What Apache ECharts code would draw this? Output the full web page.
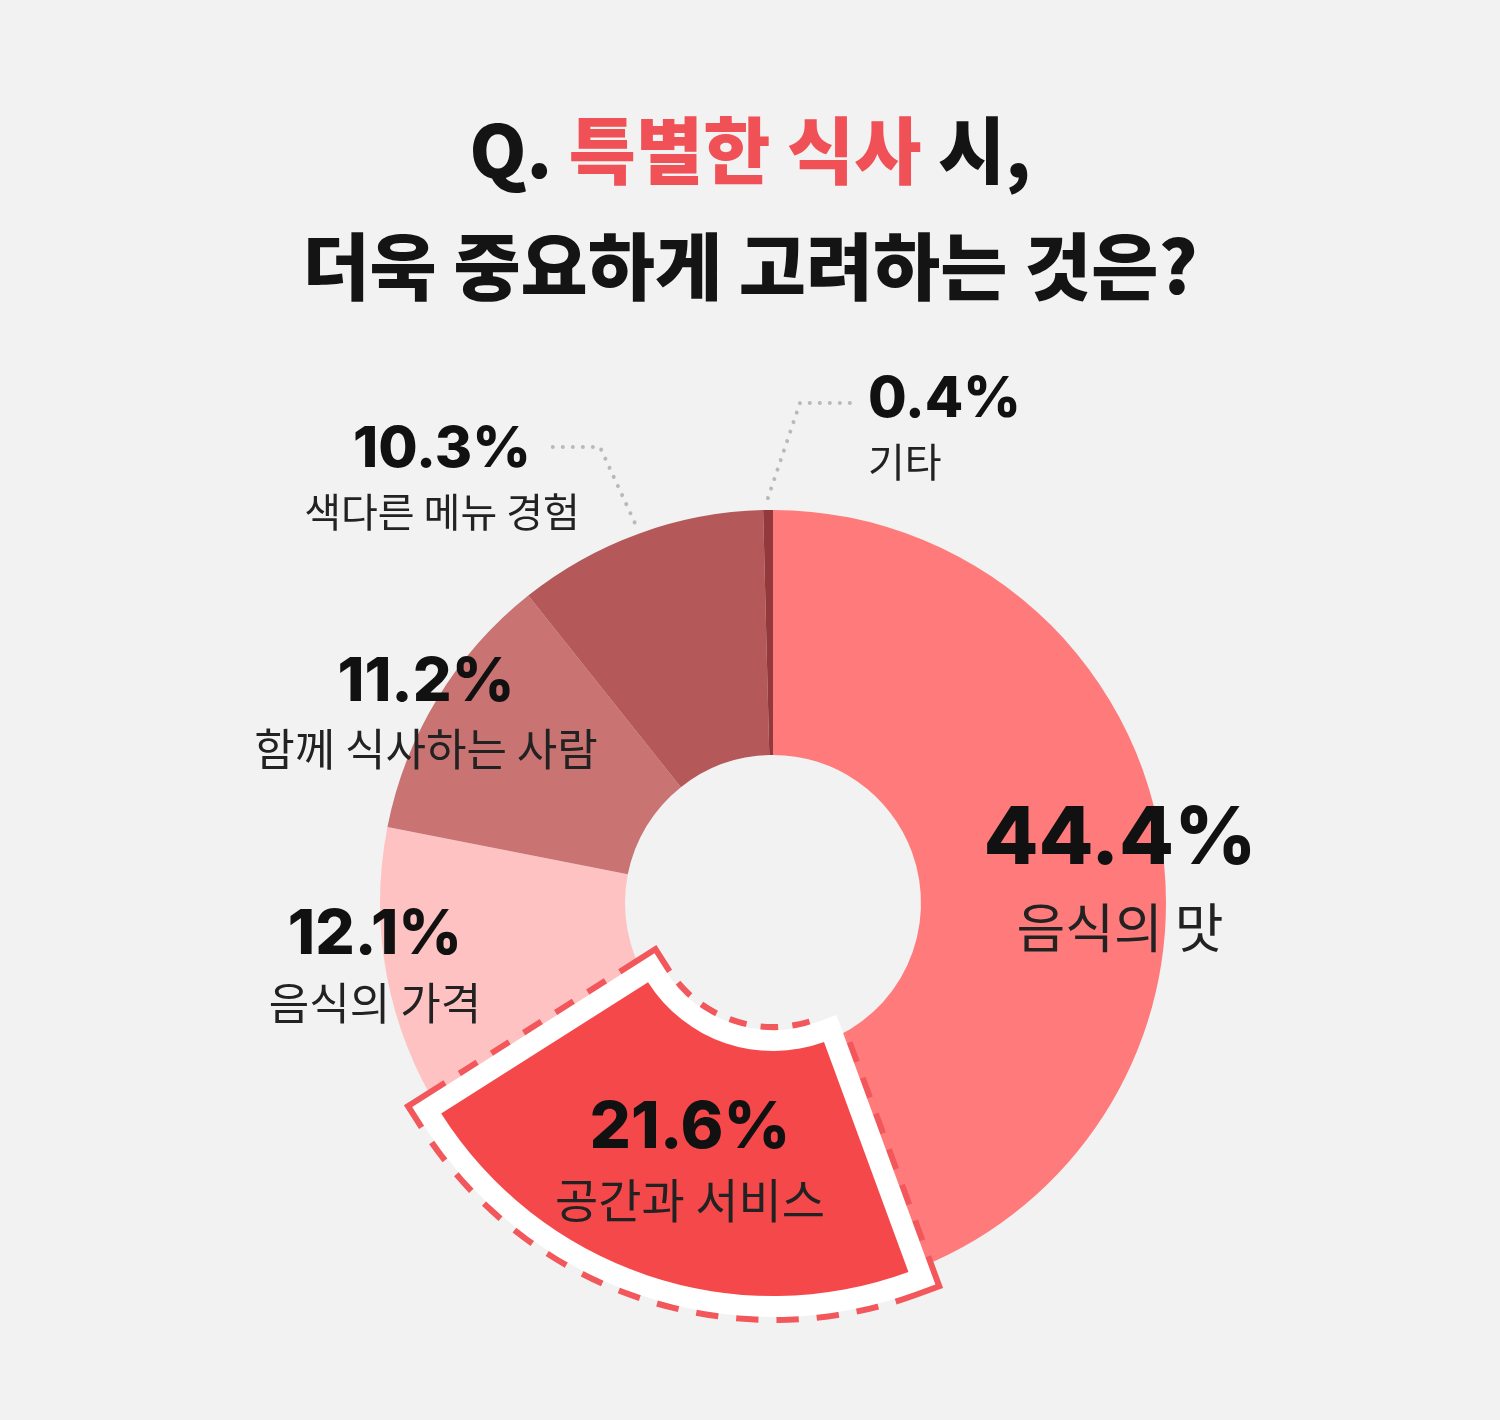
<!DOCTYPE html>
<html><head><meta charset="utf-8">
<script src="https://cdn.jsdelivr.net/npm/echarts@6/dist/echarts.min.js"></script>
<style>html,body{margin:0;padding:0;background:#f2f2f2}#c{width:1500px;height:1420px}</style>
</head><body><div id="c"></div>
<script>
// ---- data ----
const categories = ['음식의 맛', '공간과 서비스', '음식의 가격', '함께 식사하는 사람', '색다른 메뉴 경험', '기타'];
const values = [44.4, 21.6, 12.1, 11.2, 10.3, 0.4];
const colors = ['#FF7B7B', '#F5484B', '#FFC2C2', '#C97373', '#B4585A', '#93393B'];
const highlightIndex = 1;
const titleLine1 = ['Q. ', '특별한 식사', ' 시,'];
const titleLine2 = '더욱 중요하게 고려하는 것은?';

// ---- layout (positions / sizes only) ----
const CENTER = [773, 903];
const RADIUS = [148, 393];
const labelLayoutCfg = [
  {x: 1120, y: 884, align: 'center', num: 80, name: 53, lh: 88},
  {x: 690, y: 1164, align: 'center', num: 65, name: 47, lh: 72},
  {x: 375, y: 969, align: 'center', num: 62, name: 44, lh: 68},
  {x: 426, y: 716, align: 'center', num: 61, name: 44, lh: 67},
  {x: 442, y: 481, align: 'center', num: 57, name: 40, lh: 62, line: [[600, 447], [552, 447]]},
  {x: 868, y: 431, align: 'left', num: 56, name: 40, lh: 62, line: [[800, 403], [850, 403]]}
];
const NUM_FONT = 'Inter';
const KR_FONT = '"Noto Sans CJK KR"';

function makeData(styleFn, extraFn) {
  return categories.map((n, i) => Object.assign({name: n, value: values[i], itemStyle: styleFn(i)}, extraFn ? extraFn(i) : {}));
}
const common = {type: 'pie', center: CENTER, radius: RADIUS, startAngle: 90, clockwise: true,
  avoidLabelOverlap: false, animation: false, silent: true, emphasis: {disabled: true}};

const chart = echarts.init(document.getElementById('c'), null, {renderer: 'canvas'});
chart.setOption({
  backgroundColor: '#f2f2f2',
  title: {
    text: '{b|' + titleLine1[0] + '}{r|' + titleLine1[1] + '}{b|' + titleLine1[2] + '}\n{b|' + titleLine2 + '}',
    left: 'center', top: 87,
    textStyle: {
      rich: {
        b: {fontFamily: KR_FONT, fontWeight: 900, fontSize: 73, color: '#141414', lineHeight: 116},
        r: {fontFamily: KR_FONT, fontWeight: 900, fontSize: 73, color: '#F05157', lineHeight: 116}
      }
    }
  },
  series: [
    Object.assign({}, common, {z: 1, label: {show: false}, labelLine: {show: false},
      data: makeData(i => ({color: colors[i], borderWidth: 0}))}),
    Object.assign({}, common, {z: 2, label: {show: false}, labelLine: {show: false},
      data: makeData(i => i === highlightIndex
        ? {color: 'transparent', borderColor: '#F2575B', borderWidth: 54, borderType: [21, 17], borderJoin: 'miter', borderMiterLimit: 20}
        : {color: 'transparent', borderWidth: 0})}),
    Object.assign({}, common, {z: 3, label: {show: false}, labelLine: {show: false},
      data: makeData(i => i === highlightIndex
        ? {color: 'transparent', borderColor: '#ffffff', borderWidth: 42, borderJoin: 'miter', borderMiterLimit: 20}
        : {color: 'transparent', borderWidth: 0})}),
    Object.assign({}, common, {z: 4,
      label: {show: true, position: 'outside',
        formatter: p => '{v|' + values[p.dataIndex].toFixed(1) + '%}\n{n|' + categories[p.dataIndex] + '}'},
      labelLine: {show: false},
      labelLayout: function (p) {
        const L = labelLayoutCfg[p.dataIndex];
        const o = {x: L.x, y: L.y, align: L.align, verticalAlign: 'middle'};
        if (L.line && p.labelLinePoints) {
          const s = p.labelLinePoints[0];
          const dx = s[0] - CENTER[0], dy = s[1] - CENTER[1], d = Math.sqrt(dx * dx + dy * dy);
          const st = [s[0] + dx / d * 12, s[1] + dy / d * 12];
          o.labelLinePoints = [st, L.line[0], L.line[1]];
        }
        return o;
      },
      data: makeData(i => i === highlightIndex ? {color: colors[i], borderWidth: 0} : {color: 'transparent', borderWidth: 0},
        i => {
          const L = labelLayoutCfg[i];
          return {
            label: {align: L.align, rich: {
              v: {fontFamily: NUM_FONT, fontWeight: 800, fontSize: L.num, color: '#111111', lineHeight: L.lh, align: L.align},
              n: {fontFamily: KR_FONT, fontWeight: 'normal', fontSize: L.name, color: '#222222', lineHeight: L.lh, align: L.align}
            }},
            labelLine: L.line ? {show: true, length: 10, length2: 10, lineStyle: {color: '#B9B9B9', width: 4, type: [0.01, 10], cap: 'round'}} : {show: false}
          };
        })
    })
  ]
});
</script>
</body></html>
